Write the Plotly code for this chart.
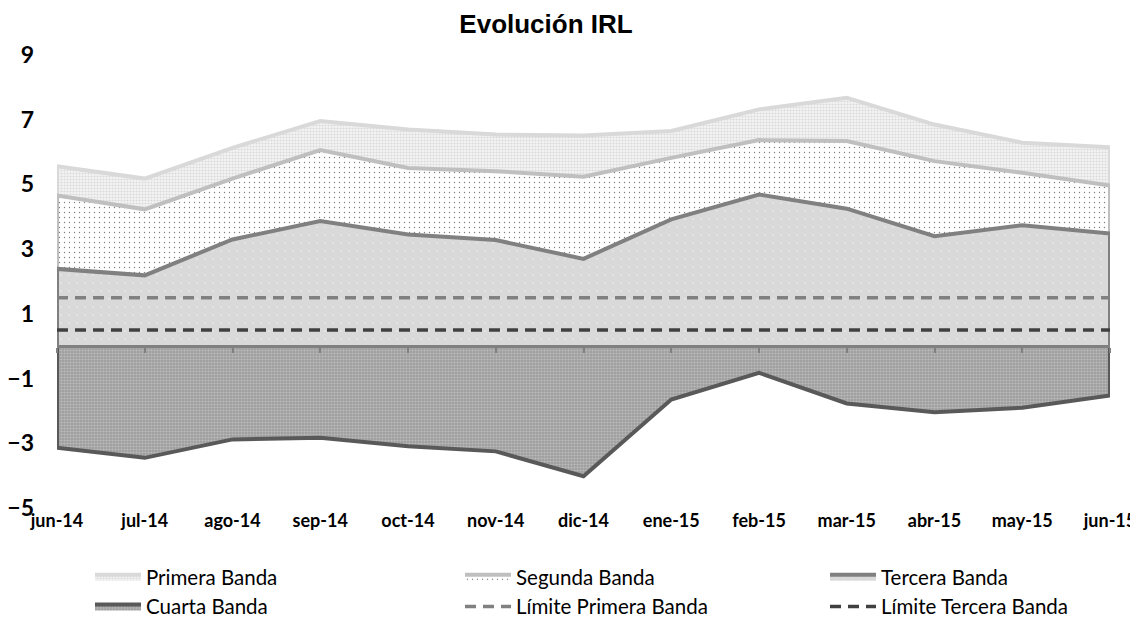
import plotly.graph_objects as go

# datos
meses = ["jun-14", "jul-14", "ago-14", "sep-14", "oct-14", "nov-14", "dic-14",
         "ene-15", "feb-15", "mar-15", "abr-15", "may-15", "jun-15"]

primera = [5.56, 5.18, 6.13, 6.96, 6.70, 6.54, 6.51, 6.65, 7.32, 7.68, 6.85, 6.29, 6.15]
segunda = [4.66, 4.23, 5.18, 6.06, 5.51, 5.41, 5.24, 5.82, 6.37, 6.34, 5.72, 5.36, 4.97]
tercera = [2.39, 2.19, 3.30, 3.87, 3.45, 3.28, 2.70, 3.92, 4.69, 4.25, 3.40, 3.74, 3.48]
cuarta = [-3.14, -3.45, -2.88, -2.83, -3.09, -3.25, -4.02, -1.65, -0.82, -1.77, -2.04, -1.90, -1.52]

limite_primera = [1.5] * len(meses)
limite_tercera = [0.5] * len(meses)

idx = list(range(len(meses)))
FONT = "Lato"

# la página tiene 8px de margen en el body: la figura se dibuja desplazada
W, H = 1130, 609


def banda(vals):
    # polígono cerrado contra el eje (como el borde de Excel)
    return [idx[0]] + idx + [idx[-1]], [0] + vals + [0]


fig = go.Figure()

estilos = [
    ("Primera Banda", primera, "#d9d9d9", dict(shape=".", bgcolor="#f3f3f3", fgcolor="#bdbdbd", size=3, solidity=0.35), "legend"),
    ("Segunda Banda", segunda, "#bfbfbf", dict(shape=".", bgcolor="#ffffff", fgcolor="#000000", size=5, solidity=0.06), "legend2"),
    ("Tercera Banda", tercera, "#808080", dict(shape=".", bgcolor="#d9d9d9", fgcolor="#f0f0f0", size=8, solidity=0.06), "legend3"),
    ("Cuarta Banda", cuarta, "#595959", dict(shape=".", bgcolor="#9e9e9e", fgcolor="#d9d9d9", size=3, solidity=0.4), "legend"),
]

for nombre, vals, color, patron, ley in estilos:
    xs, ys = banda(vals)
    fig.add_trace(go.Scatter(
        x=xs, y=ys,
        name=nombre,
        mode="lines",
        fill="toself",
        fillpattern=patron,
        line=dict(color=color, width=4),
        legend=ley,
    ))

fig.add_trace(go.Scatter(
    x=idx, y=limite_primera,
    name="Límite Primera Banda",
    mode="lines",
    line=dict(color="#808080", width=3.5, dash="11px,7px"),
    xaxis="x2",
    legend="legend2",
))
fig.add_trace(go.Scatter(
    x=idx, y=limite_tercera,
    name="Límite Tercera Banda",
    mode="lines",
    line=dict(color="#404040", width=3.5, dash="11px,7px"),
    xaxis="x2",
    legend="legend3",
))


def leyenda(x_px):
    return dict(
        orientation="v",
        xref="container", x=(x_px - 8) / W, xanchor="left",
        yref="container", y=1 - (557 - 8) / H, yanchor="top",
        itemwidth=46,
        tracegroupgap=0,
        borderwidth=0,
        bgcolor="rgba(0,0,0,0)",
        font=dict(family=FONT, size=20.5, color="black"),
    )


fig.update_layout(
    width=W,
    height=H,
    margin=dict(l=57 - 8, r=28, t=55 - 8, b=109, autoexpand=False),
    plot_bgcolor="white",
    paper_bgcolor="white",
    title=dict(
        text="<b>Evolución IRL</b>",
        x=(546 - 8) / W, xanchor="center",
        y=1 - (24 - 8) / H, yanchor="middle",
        font=dict(family="Liberation Sans, Arial", size=26, color="black"),
    ),
    xaxis=dict(
        range=[0, 12],
        tickvals=idx,
        ticktext=meses,
        showgrid=False,
        zeroline=False,
        showline=False,
        ticks="",
        automargin=False,
        tickfont=dict(family=FONT, size=18, color="black", weight="bold"),
    ),
    xaxis2=dict(
        range=[0, 12],
        overlaying="x",
        anchor="free",
        position=5 / 14,
        showline=True,
        linecolor="#808080",
        linewidth=3,
        ticks="outside",
        ticklen=5,
        tickwidth=2,
        tickcolor="#808080",
        tickvals=idx,
        showticklabels=False,
        showgrid=False,
        zeroline=False,
        automargin=False,
    ),
    yaxis=dict(
        range=[-5, 9],
        tickvals=[-5, -3, -1, 1, 3, 5, 7, 9],
        showgrid=False,
        zeroline=False,
        showline=False,
        automargin=False,
        ticklabelstandoff=22,
        tickfont=dict(family=FONT, size=23, color="black", weight="bold"),
    ),
    legend=leyenda(90),
    legend2=leyenda(460),
    legend3=leyenda(825),
    showlegend=True,
)

fig.write_html("out.html")
